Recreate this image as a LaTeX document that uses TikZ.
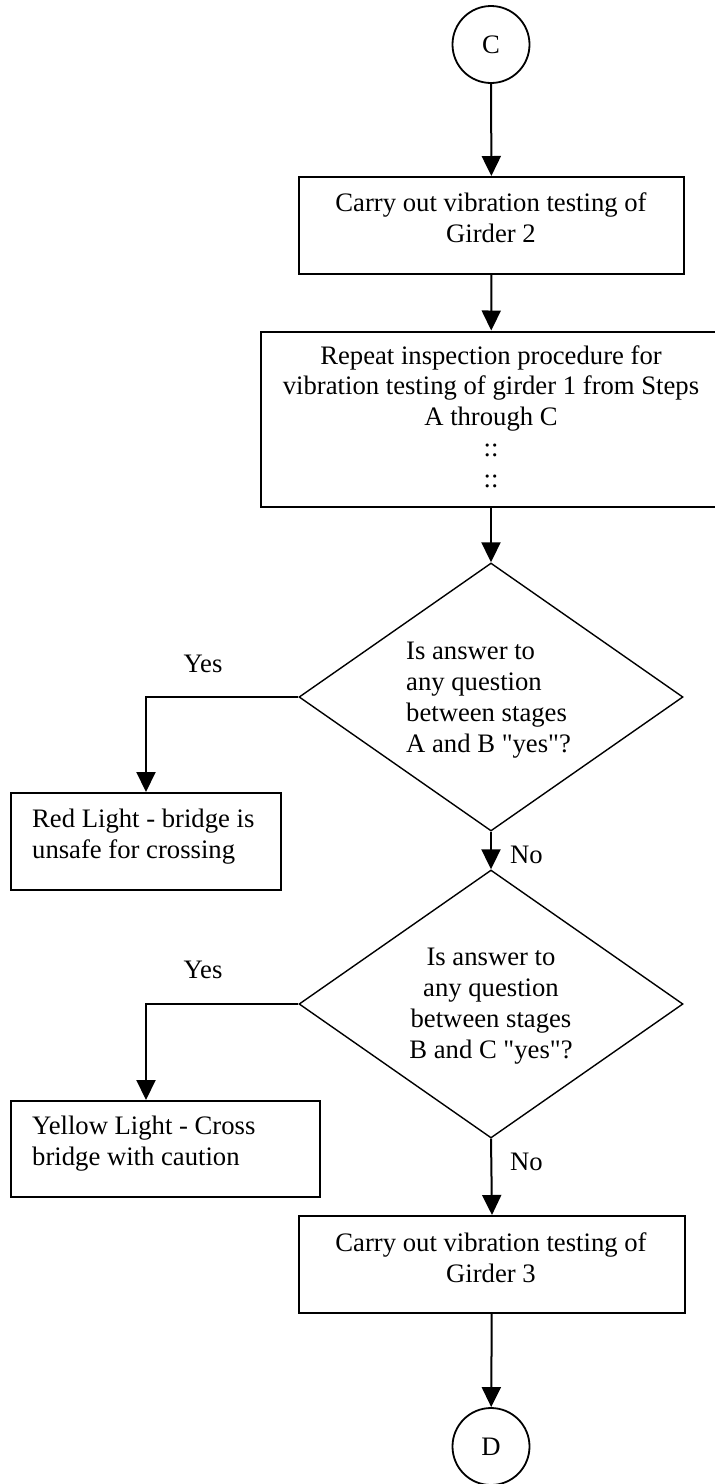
\documentclass[tikz,border=0pt]{standalone}
\usepackage{fontspec}
\setmainfont{Liberation Serif}[Ligatures=TeXOff]
\usetikzlibrary{shapes.geometric,arrows.meta,calc}
\begin{document}
\begin{tikzpicture}[x=1pt,y=-1pt,
  every node/.style={font=\fontsize{26.67}{30.7}\selectfont},
  stepbox/.style={draw,line width=2pt,rectangle,inner sep=0pt},
  decision/.style={draw,line width=1.4pt,diamond,inner sep=0pt,
    minimum width=384pt,minimum height=268pt},
  pageref/.style={draw,circle,line width=1.8pt,minimum size=77pt,inner sep=0pt},
  flow/.style={line width=2pt,-{Triangle[length=20pt,width=19pt]}},
  txt/.style={inner sep=0pt,anchor=base,align=center},
  ltxt/.style={inner sep=0pt,anchor=base west,align=left},
]
\useasboundingbox (0,0) rectangle (715,1484);

% off-page connectors
\node[pageref] (C) at (491,44.5) {C};
\node[pageref] (D) at (491,1446.5) {D};

% process boxes
\node[stepbox,minimum width=385pt,minimum height=97pt] (girder2) at (491.5,225.5) {};
\node[stepbox,minimum width=460pt,minimum height=175pt] (repeat) at (491,419) {};
\node[stepbox,minimum width=270pt,minimum height=97pt] (red) at (146,841.5) {};
\node[stepbox,minimum width=309pt,minimum height=96pt] (yellow) at (165.5,1149) {};
\node[stepbox,minimum width=386pt,minimum height=97pt] (girder3) at (492,1264.5) {};

% decisions
\node[decision] (qab) at (491,697) {};
\node[decision] (qbc) at (491,1004) {};

% texts (placed by the baseline of their last line)
\node[txt] (t2) at (491,242) {Carry out vibration testing of\\Girder 2};
\node[txt] (trep) at (491,487) {Repeat inspection procedure for\\vibration testing of girder 1 from Steps\\A through C\\::\\::};
\node[ltxt] (tqab) at (406,752) {Is answer to\\any question\\between stages\\A and B "yes"?};
\node[txt] (tqbc) at (491,1058) {Is answer to\\any question\\between stages\\B and C "yes"?};
\node[ltxt] (tred) at (32,858) {Red Light - bridge is\\unsafe for crossing};
\node[ltxt] (tyel) at (32,1165) {Yellow Light - Cross\\bridge with caution};
\node[txt] (t3) at (491,1282) {Carry out vibration testing of\\Girder 3};

\node[txt] (yes1) at (203,672) {Yes};
\node[txt] (yes2) at (203,978) {Yes};
\node[ltxt] (no1) at (510,863) {No};
\node[ltxt] (no2) at (510,1170) {No};

% connectors
\draw[flow] (C) -- (girder2);
\draw[flow] (girder2) -- (repeat);
\draw[flow] (repeat) -- (qab);
\draw[flow] (qab.west) -| (red.north);
\draw[flow] (qab.south) -- (qbc.north);
\draw[flow] (qbc.west) -| (yellow.north -| red.north);
\draw[flow] (qbc.south) -- (girder3.north);
\draw[flow] (girder3) -- (D);
\end{tikzpicture}
\end{document}
